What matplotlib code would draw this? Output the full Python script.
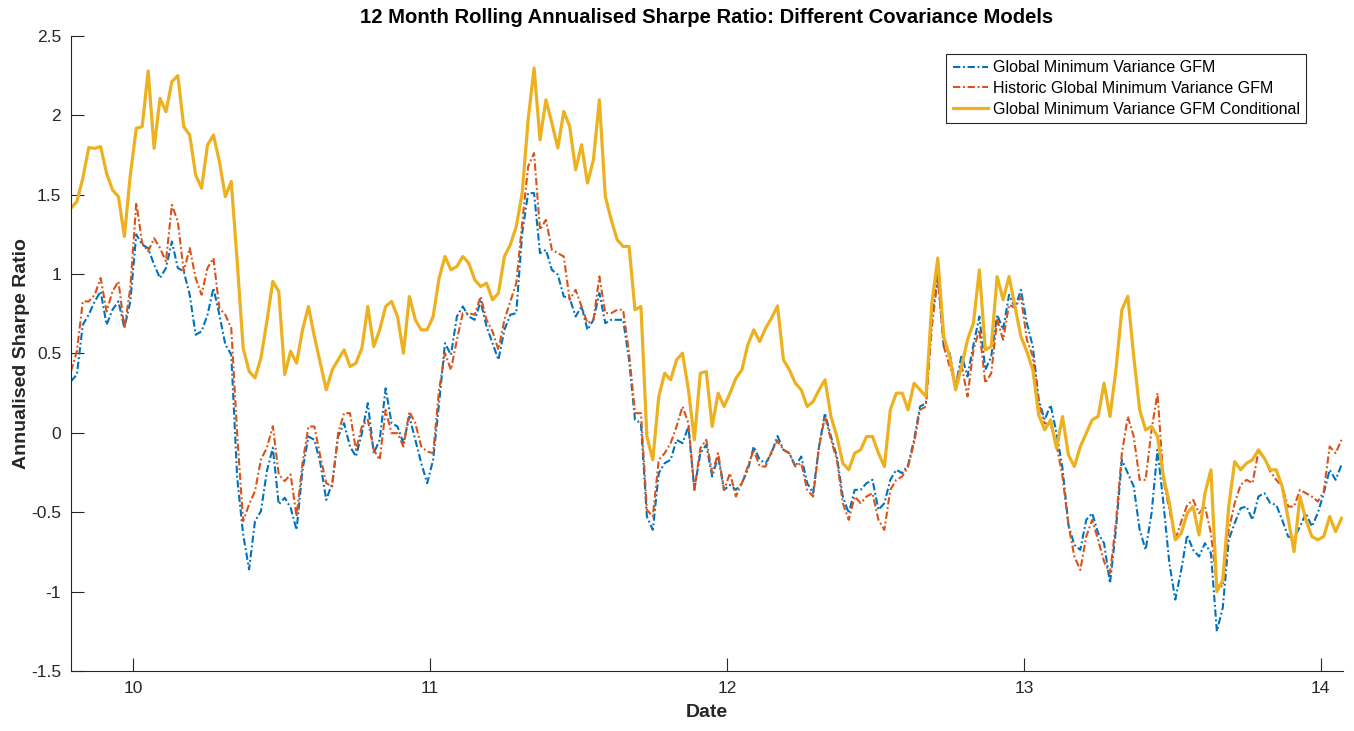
import numpy as np
import matplotlib
matplotlib.use('Agg')
import matplotlib.pyplot as plt
from matplotlib.ticker import FormatStrFormatter

plt.rcParams['font.family'] = ['Liberation Sans', 'DejaVu Sans']

# dates on a 0.02 grid (axis shows the year as 10..14)
dates = np.round(np.arange(9.79, 14.075, 0.02), 2)

# Global Minimum Variance GFM
gmv_gfm = [
    0.325, 0.367, 0.681, 0.744, 0.828, 0.891, 0.681, 0.776, 0.828, 0.660,
    0.828, 1.25, 1.184, 1.164, 1.059, 0.975, 1.038, 1.205, 1.038, 1.017,
    0.870, 0.618, 0.639, 0.744, 0.912, 0.744, 0.556, 0.493, -0.283, -0.639,
    -0.86, -0.556, -0.493, -0.241, -0.094, -0.451, -0.409, -0.472,
    -0.611, -0.233, -0.023, -0.044, -0.191, -0.422, -0.317, -0.023, 0.061, -0.086,
    -0.149, -0.002, 0.187, -0.128, -0.044, 0.28, 0.061, 0.040, -0.065, 0.103,
    -0.044, -0.191, -0.317, -0.170, 0.187, 0.565, 0.491, 0.733, 0.796, 0.733,
    0.712, 0.828, 0.670, 0.565, 0.460, 0.649, 0.744,
    0.754, 1.258, 1.510, 1.510, 1.132, 1.153, 1.027, 0.996, 0.859, 0.848,
    0.733, 0.796, 0.649, 0.712, 0.880, 0.691, 0.712, 0.712, 0.712, 0.460,
    0.082, 0.061, -0.527, -0.611, -0.254, -0.191, -0.170, -0.044, -0.065, 0.040,
    -0.359, -0.128, -0.076, -0.275, -0.149, -0.359, -0.328,
    -0.359, -0.317, -0.233, -0.086, -0.170, -0.191, -0.128, -0.02, -0.107, -0.128,
    -0.212, -0.149, -0.317, -0.380, -0.086, 0.124, -0.023, -0.149, -0.401, -0.506,
    -0.359, -0.359, -0.317, -0.296, -0.485, -0.443, -0.296, -0.233, -0.254, -0.202,
    -0.044, 0.166, 0.187, 0.733, 0.996, 0.544, 0.502,
    0.292, 0.491, 0.355, 0.554, 0.733, 0.397, 0.481, 0.744, 0.649, 0.870,
    0.786, 0.901, 0.691, 0.544, 0.208, 0.082, 0.176, -0.002, -0.223, -0.580,
    -0.706, -0.737, -0.548, -0.506, -0.632, -0.695, -0.947, -0.611, -0.170, -0.254,
    -0.338, -0.611, -0.737, -0.506, -0.107, -0.443, -0.821,
    -1.05, -0.863, -0.643, -0.737, -0.779, -0.695, -0.758, -1.25, -1.10, -0.674,
    -0.569, -0.475, -0.464, -0.548, -0.401, -0.380, -0.443, -0.454, -0.548, -0.653,
    -0.664, -0.590, -0.506, -0.590, -0.506, -0.380, -0.233, -0.296, -0.200,
]

# Historic Global Minimum Variance GFM
hist_gmv_gfm = [
    0.388, 0.514, 0.828, 0.828, 0.870, 0.975, 0.765, 0.891, 0.954, 0.660,
    0.912, 1.45, 1.195, 1.143, 1.226, 1.164, 1.080, 1.436, 1.331, 1.017,
    1.164, 0.975, 0.870, 1.038, 1.101, 0.786, 0.744, 0.660, -0.010, -0.556,
    -0.451, -0.367, -0.168, -0.094, 0.042, -0.262, -0.304, -0.262,
    -0.527, -0.191, 0.040, 0.040, -0.149, -0.317, -0.338, -0.002, 0.124, 0.124,
    -0.107, 0.040, 0.082, -0.107, -0.170, 0.145, -0.002, -0.002, -0.086, 0.134,
    0.061, -0.086, -0.118, -0.128, 0.271, 0.502, 0.397, 0.586, 0.754, 0.754,
    0.744, 0.859, 0.712, 0.639, 0.523, 0.712, 0.828,
    0.943, 1.321, 1.678, 1.762, 1.279, 1.342, 1.153, 1.132, 1.111, 0.838,
    0.901, 0.796, 0.691, 0.712, 0.985, 0.754, 0.754, 0.775, 0.775, 0.502,
    0.124, 0.124, -0.485, -0.527, -0.170, -0.128, -0.065, 0.040, 0.166, 0.061,
    -0.359, -0.097, -0.044, -0.254, -0.128, -0.359, -0.254,
    -0.401, -0.317, -0.212, -0.107, -0.212, -0.212, -0.118, -0.05, -0.107, -0.128,
    -0.212, -0.191, -0.359, -0.401, -0.086, 0.103, -0.044, -0.170, -0.443, -0.548,
    -0.401, -0.443, -0.401, -0.380, -0.548, -0.611, -0.359, -0.296, -0.275, -0.212,
    -0.065, 0.145, 0.166, 0.670, 0.975, 0.544, 0.418,
    0.313, 0.428, 0.229, 0.523, 0.649, 0.313, 0.376, 0.712, 0.586, 0.807,
    0.786, 0.859, 0.586, 0.481, 0.187, 0.061, 0.050, -0.076, -0.275, -0.580,
    -0.779, -0.863, -0.653, -0.548, -0.674, -0.811, -0.884, -0.569, -0.128, 0.103,
    -0.023, -0.296, -0.296, 0.019, 0.25, -0.296, -0.485,
    -0.674, -0.559, -0.454, -0.422, -0.506, -0.464, -0.632, -0.958, -0.968, -0.611,
    -0.443, -0.328, -0.296, -0.317, -0.118, -0.160, -0.244, -0.296, -0.338, -0.464,
    -0.464, -0.359, -0.380, -0.401, -0.433, -0.370, -0.086, -0.128, -0.044,
]

# Global Minimum Variance GFM Conditional
gmv_gfm_cond = [
    1.415, 1.457, 1.604, 1.797, 1.792, 1.803, 1.635, 1.530, 1.488, 1.237,
    1.625, 1.918, 1.929, 2.28, 1.792, 2.107, 2.023, 2.212, 2.25, 1.929,
    1.876, 1.625, 1.541, 1.813, 1.876, 1.709, 1.488, 1.583, 1.080, 0.535,
    0.388, 0.346, 0.472, 0.702, 0.954, 0.891, 0.367, 0.514,
    0.439, 0.649, 0.796, 0.607, 0.439, 0.271, 0.397, 0.460, 0.523, 0.418,
    0.439, 0.534, 0.796, 0.544, 0.649, 0.796, 0.828, 0.733, 0.502, 0.859,
    0.712, 0.649, 0.649, 0.733, 0.975, 1.111, 1.027, 1.048, 1.111, 1.069,
    0.964, 0.922, 0.943, 0.838, 0.880, 1.111, 1.185,
    1.300, 1.510, 1.972, 2.298, 1.846, 2.098, 1.951, 1.794, 2.025, 1.930,
    1.657, 1.815, 1.573, 1.720, 2.098, 1.489, 1.342, 1.216, 1.174, 1.174,
    0.775, 0.796, -0.023, -0.170, 0.229, 0.376, 0.334, 0.460, 0.502, 0.271,
    -0.044, 0.376, 0.386, 0.040, 0.250, 0.166, 0.250,
    0.344, 0.397, 0.554, 0.649, 0.575, 0.660, 0.723, 0.80, 0.460, 0.397,
    0.313, 0.271, 0.166, 0.197, 0.271, 0.334, 0.103, -0.023, -0.191, -0.233,
    -0.128, -0.107, -0.023, -0.023, -0.128, -0.212, 0.145, 0.250, 0.250, 0.145,
    0.313, 0.271, 0.229, 0.817, 1.101, 0.607, 0.481,
    0.271, 0.418, 0.586, 0.691, 1.027, 0.523, 0.544, 0.985, 0.838, 0.985,
    0.796, 0.607, 0.512, 0.397, 0.113, 0.019, 0.082, -0.097, 0.103, -0.139,
    -0.212, -0.086, -0.002, 0.082, 0.103, 0.313, 0.103, 0.397, 0.775, 0.86,
    0.481, 0.145, 0.019, 0.040, -0.023, -0.275, -0.443,
    -0.674, -0.632, -0.506, -0.464, -0.643, -0.380, -0.233, -1.0, -0.926, -0.464,
    -0.181, -0.233, -0.191, -0.170, -0.107, -0.160, -0.233, -0.233, -0.338, -0.538,
    -0.748, -0.401, -0.548, -0.653, -0.674, -0.653, -0.527, -0.622, -0.538,
]

series_names = ['Global Minimum Variance GFM',
                'Historic Global Minimum Variance GFM',
                'Global Minimum Variance GFM Conditional']

# ============================== Plot ======================================
fig = plt.figure(figsize=(13.54, 7.31), dpi=100)
ax = fig.add_axes([0.0524, 0.0821, 0.9395, 0.8687])

dash_dot = (3.5, 1.3, 0.9, 1.3)
ax.plot(dates, gmv_gfm, linestyle=(0, dash_dot), color='#0072BD', linewidth=1.5, label=series_names[0])
ax.plot(dates, hist_gmv_gfm, linestyle=(0, dash_dot), color='#D95319', linewidth=1.5, label=series_names[1])
ax.plot(dates, gmv_gfm_cond, linestyle='-', color='#EDB120', linewidth=2.3, label=series_names[2])

ax.set_xlim(9.79, 14.075)
ax.set_ylim(-1.5, 2.5)
ax.set_xticks([10, 11, 12, 13, 14])
ax.set_yticks(np.arange(-1.5, 2.51, 0.5))
ax.yaxis.set_major_formatter(FormatStrFormatter('%g'))

for side in ['top', 'right']:
    ax.spines[side].set_visible(False)
for side in ['left', 'bottom']:
    ax.spines[side].set_color('#262626')
    ax.spines[side].set_linewidth(0.8)
ax.tick_params(direction='in', length=9.4, width=0.8, colors='#262626',
               labelsize=12.5, pad=7)

ax.set_title('12 Month Rolling Annualised Sharpe Ratio: Different Covariance Models',
             fontsize=14.6, fontweight='bold', pad=9)
ax.set_xlabel('Date', fontsize=14, fontweight='bold', color='#262626', labelpad=6)
ax.set_ylabel('Annualised Sharpe Ratio', fontsize=14, fontweight='bold', color='#262626', labelpad=1)

leg = ax.legend(loc='upper right', bbox_to_anchor=(0.9645, 0.9261),
                bbox_transform=fig.transFigure, borderaxespad=0,
                fancybox=False, framealpha=1, fontsize=11.5,
                handlelength=2.2, handletextpad=0.3, labelspacing=0.35)
leg.get_frame().set_edgecolor('#262626')
leg.get_frame().set_linewidth(0.8)

fig.savefig('out.png', dpi=100)
